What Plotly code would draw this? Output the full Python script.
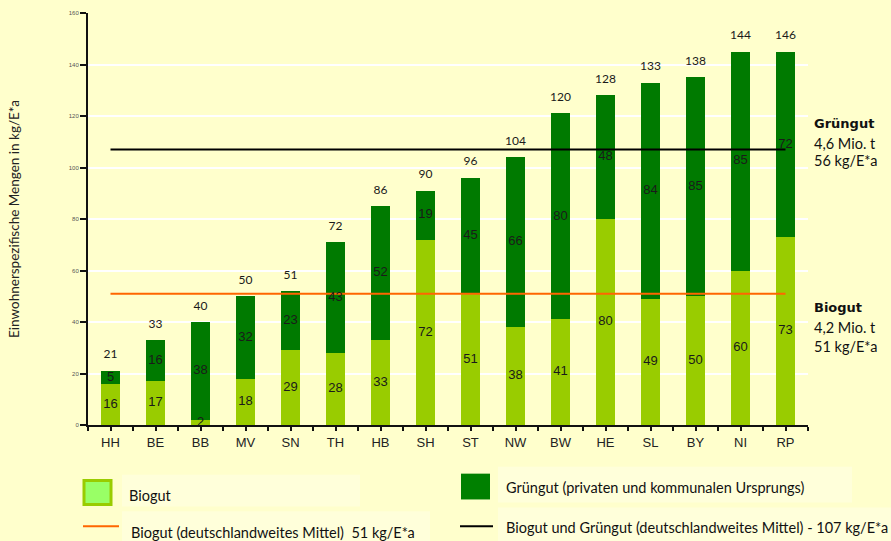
import plotly.graph_objects as go

categories = ["HH", "BE", "BB", "MV", "SN", "TH", "HB", "SH", "ST", "NW", "BW", "HE", "SL", "BY", "NI", "RP"]
biogut = [16, 17, 2, 18, 29, 28, 33, 72, 51, 38, 41, 80, 49, 50, 60, 73]
gruengut = [5, 16, 38, 32, 23, 43, 52, 19, 45, 66, 80, 48, 84, 85, 85, 72]
totals = [21, 33, 40, 50, 51, 72, 86, 90, 96, 104, 120, 128, 133, 138, 144, 146]
mean_biogut = 51
mean_total = 107
y_ticks = [0, 20, 40, 60, 80, 100, 120, 140, 160]

BG = "#FFFFCC"
BG_LIGHT = "#FFFFDA"
LIGHT = "#99CC00"
DARK = "#007A00"
ORANGE = "#FF6600"
LABEL_FONT = "Liberation Sans, Arial, sans-serif"
TEXT_FONT = "Lato, Open Sans, sans-serif"

x = list(range(len(categories)))
stack_top = [b + g for b, g in zip(biogut, gruengut)]

fig = go.Figure()
fig.add_trace(go.Bar(x=x, y=biogut, marker=dict(color=LIGHT, line=dict(width=0)),
                     width=0.44, name="Biogut", hoverinfo="skip"))
fig.add_trace(go.Bar(x=x, y=gruengut, marker=dict(color=DARK, line=dict(width=0)),
                     width=0.44, name="Grüngut", hoverinfo="skip"))

fig.add_trace(go.Scatter(x=[x[0], x[-1]], y=[mean_biogut, mean_biogut], mode="lines",
                         line=dict(color=ORANGE, width=2), hoverinfo="skip"))
fig.add_trace(go.Scatter(x=[x[0], x[-1]], y=[mean_total, mean_total], mode="lines",
                         line=dict(color="black", width=2), hoverinfo="skip"))

# segment labels
fig.add_trace(go.Scatter(x=x, y=[b / 2 for b in biogut], mode="text",
                         text=[str(v) for v in biogut],
                         textfont=dict(family=LABEL_FONT, size=13, color="#1a1a1a"),
                         textposition="middle center", hoverinfo="skip"))
fig.add_trace(go.Scatter(x=x, y=[b + g / 2 for b, g in zip(biogut, gruengut)], mode="text",
                         text=[str(v) for v in gruengut],
                         textfont=dict(family=LABEL_FONT, size=13, color="#1a1a1a"),
                         textposition="middle center", hoverinfo="skip"))
fig.add_trace(go.Scatter(x=x, y=[s + 6 for s in stack_top], mode="text",
                         text=[str(v) for v in totals],
                         textfont=dict(family=TEXT_FONT, size=12, color="#1a1a1a"),
                         textposition="middle center", hoverinfo="skip"))

fig.update_layout(
    width=891, height=541,
    paper_bgcolor=BG, plot_bgcolor=BG,
    margin=dict(l=88, r=83, t=10, b=116),
    barmode="stack", bargap=0.56, showlegend=False,
    xaxis=dict(range=[-0.5, len(categories) - 0.5], tickmode="array", tickvals=x,
               ticktext=categories, showgrid=False, zeroline=False,
               showline=True, linecolor="#111", linewidth=2,
               ticks="outside", ticklen=4, tickcolor="#111", tickwidth=1.5,
               tickfont=dict(family=LABEL_FONT, size=13, color="#222"),
               minor=dict(dtick=0.5, tick0=-0.5, ticks="outside", ticklen=4,
                          tickcolor="#111", tickwidth=1.5, showgrid=False)),
    yaxis=dict(range=[0, 160], tickmode="array", tickvals=y_ticks,
               ticktext=[str(v) for v in y_ticks],
               showgrid=True, gridcolor="white", gridwidth=2, zeroline=False,
               showline=True, linecolor="#111", linewidth=2,
               ticks="outside", ticklen=6, tickcolor="#111", tickwidth=1.5,
               tickfont=dict(family=LABEL_FONT, size=6, color="#555"),
               title=dict(text="Einwohnerspezifische Mengen in kg/E*a",
                          font=dict(family=TEXT_FONT, size=13.5, color="#222"),
                          standoff=46)),
)

ann = []
def txt(xp, yp, s, size=14.5, bold=False):
    ann.append(dict(x=xp, y=yp, xref="paper", yref="paper",
                    text=("<b>%s</b>" % s) if bold else s,
                    showarrow=False, xanchor="left", yanchor="middle",
                    font=dict(family=("DejaVu Sans" if bold else TEXT_FONT), size=size, color="#111")))

# paper coords helpers: plot area x 88..808, y 10..425 (pixels)
def px(xp):
    return (xp - 88) / 720.0
def py(yp):
    return (425 - yp) / 415.0

txt(px(812), py(121), "Grüngut", 13, True)
txt(px(812), py(141), "4,6 Mio. t")
txt(px(812), py(159), "56 kg/E*a")
txt(px(812), py(307), "Biogut", 13, True)
txt(px(812), py(327), "4,2 Mio. t")
txt(px(812), py(346), "51 kg/E*a")

txt(px(127), py(496), "Biogut")
txt(px(504), py(488), "Grüngut (privaten und kommunalen Ursprungs)")
txt(px(129), py(533), "Biogut (deutschlandweites Mittel)  51 kg/E*a")
txt(px(504), py(528), "Biogut und Grüngut (deutschlandweites Mittel) - 107 kg/E*a")
fig.update_layout(annotations=ann)

shapes = [
    # faint legend backgrounds
    dict(type="rect", xref="paper", yref="paper", x0=px(122), x1=px(360), y0=py(507), y1=py(475),
         fillcolor=BG_LIGHT, line=dict(width=0), layer="below"),
    dict(type="rect", xref="paper", yref="paper", x0=px(122), x1=px(430), y0=py(545), y1=py(512),
         fillcolor=BG_LIGHT, line=dict(width=0), layer="below"),
    dict(type="rect", xref="paper", yref="paper", x0=px(498), x1=px(852), y0=py(503), y1=py(467),
         fillcolor=BG_LIGHT, line=dict(width=0), layer="below"),
    dict(type="rect", xref="paper", yref="paper", x0=px(498), x1=px(895), y0=py(545), y1=py(508),
         fillcolor=BG_LIGHT, line=dict(width=0), layer="below"),
    # legend symbols
    dict(type="rect", xref="paper", yref="paper", x0=px(84), x1=px(111), y0=py(505), y1=py(481),
         fillcolor="#99FF66", line=dict(color=LIGHT, width=3)),
    dict(type="rect", xref="paper", yref="paper", x0=px(461), x1=px(490), y0=py(500), y1=py(474),
         fillcolor="#008000", line=dict(width=0)),
    dict(type="line", xref="paper", yref="paper", x0=px(83), x1=px(119), y0=py(527), y1=py(527),
         line=dict(color=ORANGE, width=2)),
    dict(type="line", xref="paper", yref="paper", x0=px(460), x1=px(493), y0=py(527), y1=py(527),
         line=dict(color="black", width=2)),
]
fig.update_layout(shapes=shapes)

fig.write_html("out.html", config={"displayModeBar": False},
               post_script="document.body.style.margin='0';document.body.style.overflow='hidden';document.body.style.background='%s';" % BG)
